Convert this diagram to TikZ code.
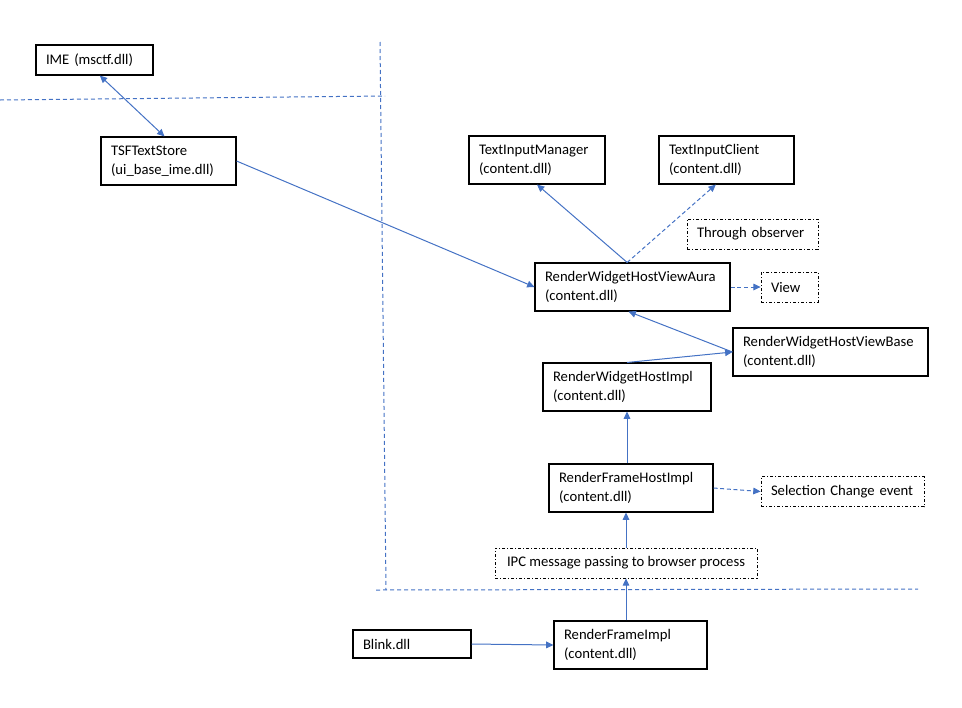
\documentclass[tikz,border=0pt]{standalone}
\usepackage{fontspec}
\setmainfont{Carlito}
\usepackage{xcolor}
\usepackage{tikz}
\usetikzlibrary{arrows.meta}
\usetikzlibrary{shapes}

\definecolor{lineblue}{HTML}{4472C4}

\tikzset{
    box/.style = {draw, line width = 0.8pt, align = left, inner xsep = 7.5pt,
        minimum height = 36pt, font = \fontsize{11}{14.25}\selectfont},
    notebox/.style = {box, line width = 0.6pt, minimum height = 22.5pt,
        dash pattern = on 2.25pt off 1.5pt on 0.75pt off 1.5pt},
    link/.style = {lineblue, line width = 0.75pt, -{Triangle[length = 5.5pt, width = 5pt]}},
    bothlink/.style = {link, {Triangle[length = 5.5pt, width = 5pt]}-{Triangle[length = 5.5pt, width = 5pt]}},
    weaklink/.style = {link, dash pattern = on 3pt off 2pt},
    divider/.style = {lineblue, line width = 0.75pt, dash pattern = on 3pt off 2.25pt}
}

\begin{document}
\begin{tikzpicture}[x = 0.75pt, y = -0.75pt]
        \useasboundingbox (0, 0) rectangle (962, 707);

        \draw[divider] (0, 100) -- (385, 96);
        \draw[divider] (380, 42) -- (386, 590);
        \draw[divider] (376, 590) -- (918, 589);

        \node[box, text width = 72.75pt, minimum height = 22.5pt] (ime) at (94.5, 60) {IME (msctf.dll)};
        \node[box, text width = 86.25pt] (tsf) at (168.5, 161) {TSFTextStore\\(ui\_base\_ime.dll)};
        \node[box, text width = 87pt] (tim) at (537, 160) {TextInputManager\\(content.dll)};
        \node[box, text width = 86.25pt] (tic) at (726.5, 160) {TextInputClient\\(content.dll)};
        \node[notebox, text width = 83.25pt] (obs) at (752.5, 234) {Through observer};
        \node[box, text width = 131.25pt] (rwhva) at (632.5, 287) {RenderWidgetHostViewAura\\(content.dll)};
        \node[notebox, text width = 27.75pt] (view) at (789.5, 287) {View};
        \node[box, text width = 131.25pt] (rwhvb) at (830.5, 352) {RenderWidgetHostViewBase\\(content.dll)};
        \node[box, text width = 111pt] (rwhi) at (627, 387) {RenderWidgetHostImpl\\(content.dll)};
        \node[box, text width = 108pt] (rfhi) at (631, 488) {RenderFrameHostImpl\\(content.dll)};
        \node[notebox, text width = 107.25pt] (sel) at (842.5, 491.5) {Selection Change event};
        \node[notebox, minimum width = 196.5pt] (ipc) at (626, 563) {IPC message passing to browser process};
        \node[box, text width = 73.5pt, minimum height = 21pt] (blink) at (412, 644) {Blink.dll};
        \node[box, text width = 99.75pt] (rfi) at (630.5, 645) {RenderFrameImpl\\(content.dll)};

        \draw[bothlink] ([xshift = 4pt]ime.south) -- ([xshift = -3pt]tsf.north);
        \draw[link] (tsf.east) -- (rwhva.west);
        \draw[link] ([xshift = -4pt]rwhva.north) -- (tim.south);
        \draw[weaklink] ([xshift = -4pt]rwhva.north) -- ([xshift = -8pt]tic.south);
        \draw[weaklink] (rwhva.east) -- (view.west);
        \draw[link] (rwhvb.west) -- ([xshift = -3pt]rwhva.south);
        \draw[link] (rwhi.north) -- (rwhvb.west);
        \draw[link] (rwhi.south |- rfhi.north) -- (rwhi.south);
        \draw[weaklink] (rfhi.east) -- (sel.west);
        \draw[link] (ipc.north) -- (ipc.north |- rfhi.south);
        \draw[link] (ipc.south |- rfi.north) -- (ipc.south);
        \draw[link] (blink.east) -- (rfi.west);
    \end{tikzpicture}
\end{document}
